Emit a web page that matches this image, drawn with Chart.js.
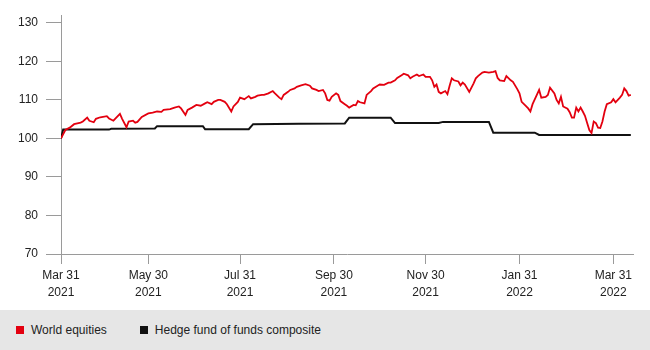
<!DOCTYPE html>
<html>
<head>
<meta charset="utf-8">
<script src="https://cdn.jsdelivr.net/npm/chart.js@4.4.1/dist/chart.umd.min.js"></script>
<style>
  body { margin: 0; background: #fff; font-family: "Liberation Sans", Arial, sans-serif; }
  #wrap { width: 650px; height: 350px; }
  #legend { height: 40px; background: #e6e6e6; display: flex; align-items: center; padding-left: 16px; font-size: 12px; color: #222; }
  #legend span.item { display: flex; align-items: center; margin-right: 33px; }
  #legend span.box { width: 8px; height: 8px; margin-right: 7px; display: inline-block; }
</style>
</head>
<body>
<div id="wrap">
  <canvas id="myChart" width="650" height="310"></canvas>
  <div id="legend"></div>
</div>
<script>
// values, x is trading days since Mar 31 2021
var seriesNames = ["World equities", "Hedge fund of funds composite"];
var seriesColors = ["#e3000f", "#111111"];

var equityDays = [0,2,4,6,9,10,12,13,15,16,18,21,22,24,25,27,28,30,31,33,34,35,37,40,42,44,46,47,50,52,54,55,57,58,60,62,64,66,67,69,70,72,73,75,76,78,79,81,82,84,85,86,87,89,90,92,93,95,97,98,100,101,102,104,105,107,108,110,112,114,115,117,118,120,121,122,123,124,126,127,128,130,131,132,134,135,136,137,139,140,142,143,145,146,148,150,151,153,154,156,157,159,160,161,163,164,166,167,169,170,171,172,173,174,176,177,178,179,180,182,183,184,185,187,189,190,191,193,194,196,198,199,200,201,203,204,206,207,209,210,211,213,214,215,216,218,219,220,222,223,224,226,227,228,229,230,232,233,234,235,236,237,238,239,240,241,242,243,244,245,246,247,248,249,250,252,253,254,256,257,258,259,260,261];
var equityValues = [100.0,102.2,102.8,103.7,104.1,104.4,105.4,104.6,104.2,105.1,105.5,105.8,105.2,104.6,105.2,106.4,105.1,102.9,104.4,104.6,104.1,104.3,105.6,106.5,106.7,107.0,106.9,107.4,107.6,108.0,108.3,107.8,106.1,107.4,108.0,108.7,108.5,109.1,109.4,108.9,109.5,110.0,110.0,109.5,108.9,107.0,108.3,109.5,110.6,110.2,110.6,111.0,110.4,110.8,111.1,111.3,111.3,111.7,112.3,111.7,110.6,110.2,111.3,112.1,112.6,113.0,113.4,113.8,114.1,113.7,113.0,112.6,112.3,112.6,111.7,110.0,109.8,110.8,111.7,111.3,109.7,108.9,108.5,108.0,108.7,108.6,109.7,109.4,109.1,111.3,112.3,113.0,113.7,114.0,113.9,114.5,114.5,115.1,115.7,116.4,116.8,116.4,115.6,116.0,116.6,116.2,116.6,116.0,116.0,115.1,113.4,114.0,112.1,111.7,112.3,111.5,113.7,115.6,115.1,114.8,113.8,114.5,114.0,112.1,114.3,115.6,116.2,117.1,117.3,117.1,117.3,117.5,115.7,115.1,114.9,116.2,115.1,114.7,112.8,111.7,109.5,108.4,107.8,107.0,108.9,111.4,112.6,110.6,110.8,111.3,113.2,111.7,110.0,109.1,110.8,108.3,107.7,106.8,105.4,105.4,108.0,107.0,108.0,107.0,105.9,104.0,102.2,101.4,104.4,104.0,102.8,102.7,104.4,107.0,108.9,109.4,110.2,109.4,110.6,111.3,113.0,112.3,111.1,111.3];

var hedgeDays = [0,1,22,23,43,44,65,66,86,88,109,130,132,151,153,173,175,196,198,217,219,261];
var hedgeValues = [100.0,102.3,102.3,102.5,102.6,103.2,103.2,102.4,102.4,103.7,103.8,103.9,105.4,105.4,104.0,104.0,104.3,104.3,101.5,101.5,100.9,100.9];

var xTickDays = [0, 40, 82, 125, 167, 210, 253];
var xTickLabels = [["Mar 31", "2021"], ["May 30", "2021"], ["Jul 31", "2021"], ["Sep 30", "2021"], ["Nov 30", "2021"], ["Jan 31", "2022"], ["Mar 31", "2022"]];
var yTicks = [70, 80, 90, 100, 110, 120, 130];

function toPoints(days, values) {
  return days.map(function(d, i) { return { x: d, y: values[i] }; });
}

var axisGrey = "#9a9a9a";
var fontSpec = { family: '"Liberation Sans", Arial, sans-serif', size: 12 };

var ctx = document.getElementById("myChart").getContext('2d');
var myChart = new Chart(ctx, {
  type: 'line',
  data: {
    datasets: [{
      label: seriesNames[0],
      data: toPoints(equityDays, equityValues),
      borderColor: seriesColors[0],
      backgroundColor: seriesColors[0],
      borderWidth: 1.8,
      pointRadius: 0,
      tension: 0
    }, {
      label: seriesNames[1],
      data: toPoints(hedgeDays, hedgeValues),
      borderColor: seriesColors[1],
      backgroundColor: seriesColors[1],
      borderWidth: 2,
      pointRadius: 0,
      tension: 0
    }]
  },
  options: {
    responsive: false,
    animation: false,
    devicePixelRatio: 1,
    layout: { padding: { top: 12, right: 17, left: 0, bottom: 0 } },
    plugins: { legend: { display: false }, tooltip: { enabled: false } },
    scales: {
      x: {
        type: 'linear',
        min: 0,
        max: 262,
        afterBuildTicks: function(scale) {
          scale.ticks = xTickDays.map(function(v) { return { value: v }; });
        },
        afterFit: function(scale) { scale.height = 56; },
        grid: { drawOnChartArea: false, drawTicks: true, tickLength: 10, color: axisGrey },
        border: { display: true, color: axisGrey, width: 1 },
        ticks: {
          autoSkip: false,
          maxRotation: 0,
          padding: 4,
          color: "#222",
          font: Object.assign({ lineHeight: 1.35 }, fontSpec),
          callback: function(value, index) { return xTickLabels[index]; }
        }
      },
      y: {
        min: 70,
        max: 132,
        afterBuildTicks: function(scale) {
          scale.ticks = yTicks.map(function(v) { return { value: v }; });
        },
        afterFit: function(scale) { scale.width = 61; },
        grid: { drawOnChartArea: false, drawTicks: true, tickLength: 15, color: axisGrey },
        border: { display: true, color: axisGrey, width: 1 },
        ticks: { padding: 8, color: "#222", font: fontSpec }
      }
    }
  }
});

// html legend under the chart, built from the datasets
var legend = document.getElementById("legend");
myChart.data.datasets.forEach(function(ds) {
  var item = document.createElement("span");
  item.className = "item";
  var box = document.createElement("span");
  box.className = "box";
  box.style.background = ds.borderColor;
  item.appendChild(box);
  item.appendChild(document.createTextNode(ds.label));
  legend.appendChild(item);
});
</script>
</body>
</html>
